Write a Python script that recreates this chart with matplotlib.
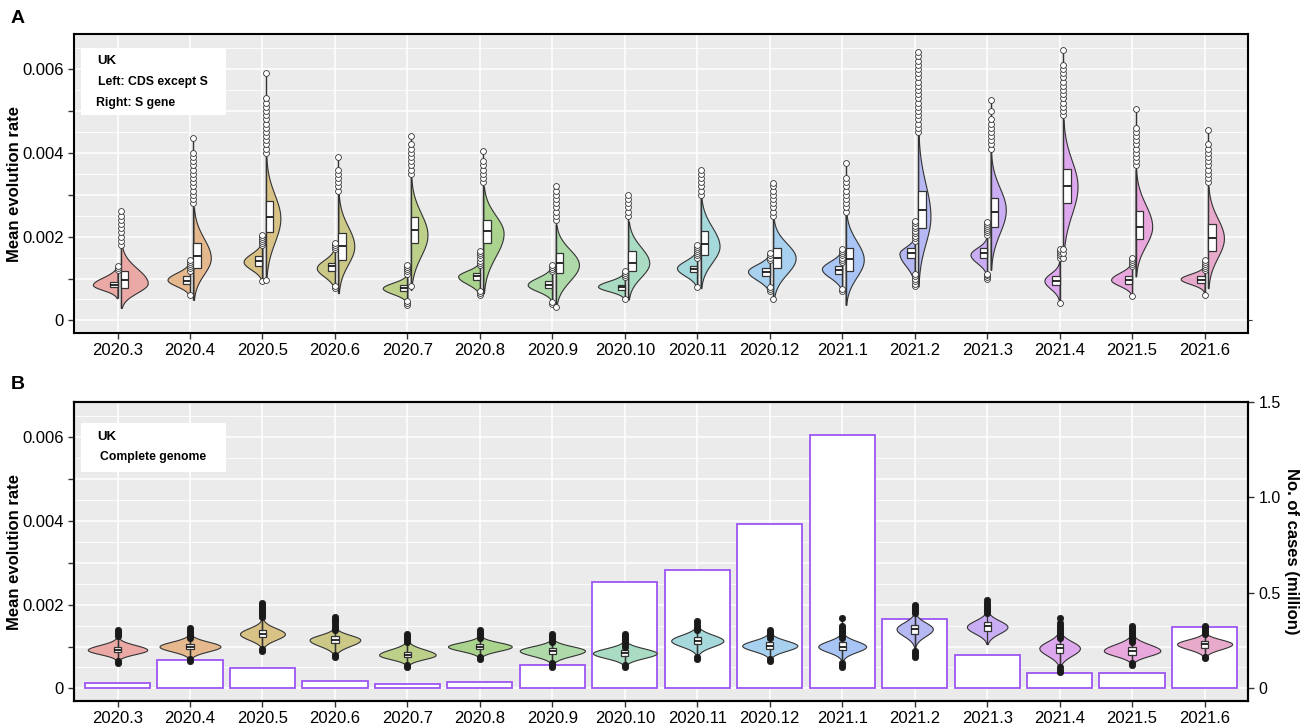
import numpy as np
import matplotlib
matplotlib.use('agg')
from matplotlib import pyplot as plt
from matplotlib.lines import Line2D
from matplotlib.patches import Rectangle
from matplotlib.ticker import FixedLocator, FuncFormatter

plt.rcParams['font.family'] = ['Liberation Sans', 'DejaVu Sans']

MONTHS = ['2020.3', '2020.4', '2020.5', '2020.6', '2020.7', '2020.8', '2020.9', '2020.10',
          '2020.11', '2020.12', '2021.1', '2021.2', '2021.3', '2021.4', '2021.5', '2021.6']
MONTH_COLORS = ['#EBA9A6', '#E6B88E', '#D8C285', '#CCC888', '#BDD08A', '#AAD48E', '#AEDAA9', '#A9DCC3',
                '#A6D9DB', '#A8D1EF', '#A9C5F6', '#B5B8F2', '#C9AEF3', '#DEA8EE', '#E8A8DD', '#E8AACB']

# --- A, left half: CDS except S ---
CDS_LOW = [0.00053, 0.00058, 0.00092, 0.00073, 0.00042, 0.0006, 0.00045, 0.00052,
           0.00077, 0.00065, 0.00069, 0.00085, 0.00105, 0.00045, 0.0006, 0.00068]
CDS_HIGH = [0.0013, 0.0014, 0.0019, 0.00175, 0.0011, 0.0014, 0.0013, 0.00115,
            0.0017, 0.0016, 0.0017, 0.002, 0.002, 0.0014, 0.0014, 0.0013]
CDS_MODE = [0.00085, 0.00097, 0.0014, 0.00125, 0.00077, 0.00105, 0.00085, 0.00081,
            0.00125, 0.00117, 0.00123, 0.0016, 0.00157, 0.00095, 0.00097, 0.00099]
CDS_DENSITY = [0.34, 0.31, 0.26, 0.25, 0.34, 0.30, 0.34, 0.37, 0.28, 0.30, 0.28, 0.21, 0.23, 0.21, 0.29, 0.33]
CDS_Q1 = [0.00079, 0.00088, 0.00129, 0.00117, 0.00071, 0.00097, 0.00077, 0.00073,
          0.00115, 0.00107, 0.00111, 0.00149, 0.00149, 0.00085, 0.00088, 0.00089]
CDS_MEDIAN = [0.00084, 0.00095, 0.00141, 0.00129, 0.00077, 0.00105, 0.00085, 0.0008,
              0.00123, 0.00115, 0.00121, 0.0016, 0.0016, 0.00095, 0.00097, 0.00097]
CDS_Q3 = [0.00091, 0.00105, 0.00153, 0.00137, 0.00085, 0.00113, 0.00093, 0.00085,
          0.00131, 0.00125, 0.00131, 0.00173, 0.00173, 0.00107, 0.00107, 0.00107]
CDS_OUTLIERS = [
    [0.00121, 0.00125, 0.00129],
    [0.0006, 0.00118, 0.00124, 0.0013, 0.00135, 0.0014, 0.00145],
    [0.00093, 0.0018, 0.00185, 0.0019, 0.00195, 0.002, 0.00205],
    [0.00078, 0.00082, 0.0017, 0.00175, 0.0018, 0.00185],
    [0.00038, 0.00042, 0.00046, 0.00112, 0.00117, 0.00122, 0.00128, 0.00133],
    [0.0006, 0.00065, 0.0007, 0.00133, 0.00138, 0.00143, 0.00148, 0.00155, 0.0016, 0.00166],
    [0.0004, 0.00045, 0.00118, 0.00123, 0.00128, 0.00133],
    [0.0005, 0.00104, 0.00109, 0.00114, 0.00119],
    [0.0008, 0.0015, 0.00155, 0.0016, 0.00165, 0.0017, 0.00175, 0.0018],
    [0.0007, 0.00075, 0.0008, 0.00145, 0.0015, 0.00155, 0.0016],
    [0.0007, 0.00075, 0.0014, 0.00145, 0.0015, 0.00155, 0.0016, 0.00165, 0.0017],
    [0.00081, 0.00087, 0.00093, 0.001, 0.00106, 0.00112, 0.0019, 0.00196, 0.00202, 0.00208,
     0.00214, 0.0022, 0.00226, 0.00232, 0.00238],
    [0.001, 0.00104, 0.00108, 0.00112, 0.00205, 0.0021, 0.00215, 0.0022, 0.00225, 0.0023, 0.00236],
    [0.00041, 0.0015, 0.00155, 0.0016, 0.00165, 0.0017],
    [0.00059, 0.0013, 0.00135, 0.0014, 0.00145, 0.0015],
    [0.00061, 0.0012, 0.00125, 0.0013, 0.00135, 0.0014, 0.00145],
]

# --- A, right half: S gene ---
S_LOW = [0.0003, 0.00049, 0.00095, 0.00065, 0.00073, 0.00065, 0.00033, 0.0005,
         0.00077, 0.0005, 0.00037, 0.00081, 0.00121, 0.00149, 0.00105, 0.00077]
S_HIGH = [0.0018, 0.0027, 0.0039, 0.003, 0.0034, 0.0032, 0.00228, 0.00236,
          0.00296, 0.0024, 0.0026, 0.0045, 0.004, 0.0048, 0.0036, 0.0032]
S_MODE = [0.00089, 0.00149, 0.00244, 0.00177, 0.00204, 0.00208, 0.00133, 0.00137,
          0.00177, 0.00149, 0.00145, 0.00248, 0.00264, 0.0032, 0.00224, 0.00196]
S_DENSITY = [0.37, 0.24, 0.20, 0.22, 0.23, 0.28, 0.32, 0.29, 0.26, 0.31, 0.25, 0.17, 0.21, 0.20, 0.23, 0.22]
S_Q1 = [0.00077, 0.00125, 0.0021, 0.00145, 0.00185, 0.00185, 0.00113, 0.00117,
        0.00157, 0.00125, 0.00117, 0.0022, 0.00222, 0.0028, 0.00195, 0.00165]
S_MEDIAN = [0.00097, 0.00153, 0.00247, 0.00177, 0.00216, 0.00214, 0.00137, 0.00137,
            0.00183, 0.00149, 0.00146, 0.00263, 0.00258, 0.0032, 0.00224, 0.00196]
S_Q3 = [0.00117, 0.00185, 0.00286, 0.00208, 0.00248, 0.0024, 0.0016, 0.00165,
        0.00214, 0.00173, 0.00174, 0.0031, 0.00292, 0.00361, 0.00262, 0.00231]
S_OUTLIERS = [
    [0.0018, 0.0019, 0.002, 0.0021, 0.0022, 0.0023, 0.0024, 0.0025, 0.00262],
    [0.0028, 0.0029, 0.003, 0.0031, 0.0032, 0.0033, 0.0034, 0.0035, 0.0036, 0.0037, 0.0038,
     0.0039, 0.004, 0.00435],
    [0.00097, 0.004, 0.0041, 0.0042, 0.0043, 0.0044, 0.0045, 0.0046, 0.0047, 0.0048, 0.0049,
     0.005, 0.0051, 0.0052, 0.0053, 0.0059],
    [0.0031, 0.0032, 0.0033, 0.0034, 0.0035, 0.0036, 0.0039],
    [0.00083, 0.0035, 0.0036, 0.0037, 0.0038, 0.0039, 0.004, 0.0041, 0.0042, 0.0044],
    [0.0033, 0.0034, 0.0035, 0.0036, 0.0037, 0.0038, 0.00405],
    [0.00033, 0.0024, 0.0025, 0.0026, 0.0027, 0.0028, 0.0029, 0.003, 0.0031, 0.0032],
    [0.0025, 0.0026, 0.0027, 0.0028, 0.0029, 0.003],
    [0.003, 0.0031, 0.0032, 0.0033, 0.0034, 0.0035, 0.0036],
    [0.0005, 0.0025, 0.0026, 0.0027, 0.0028, 0.0029, 0.003, 0.0031, 0.0032, 0.00328],
    [0.0026, 0.0027, 0.0028, 0.0029, 0.003, 0.0031, 0.0032, 0.0033, 0.0034, 0.00375],
    [0.0045, 0.0046, 0.0047, 0.0048, 0.0049, 0.005, 0.0051, 0.0052, 0.0053, 0.0054, 0.0055,
     0.0056, 0.0057, 0.0058, 0.0059, 0.006, 0.0061, 0.0062, 0.0063, 0.0064],
    [0.0041, 0.0042, 0.0043, 0.0044, 0.0045, 0.0046, 0.0047, 0.0048, 0.005, 0.00527],
    [0.0015, 0.0016, 0.0017, 0.0049, 0.005, 0.0051, 0.0052, 0.0053, 0.0054, 0.0055, 0.0056,
     0.0057, 0.0058, 0.0059, 0.006, 0.0061, 0.00646],
    [0.0037, 0.0038, 0.0039, 0.004, 0.0041, 0.0042, 0.0043, 0.0044, 0.0045, 0.0046, 0.00505],
    [0.0033, 0.0034, 0.0035, 0.0036, 0.0037, 0.0038, 0.0039, 0.004, 0.0041, 0.0042, 0.00455],
]

# --- B: complete genome + monthly cases ---
GENOME_LOW = [0.00066, 0.0007, 0.00094, 0.00078, 0.00054, 0.00073, 0.00058, 0.00054,
              0.00078, 0.0007, 0.00066, 0.00098, 0.00106, 0.0005, 0.00058, 0.00074]
GENOME_HIGH = [0.00122, 0.0013, 0.00166, 0.00146, 0.00114, 0.00126, 0.00118, 0.00114,
               0.0015, 0.00134, 0.00134, 0.00182, 0.00186, 0.00138, 0.0013, 0.00134]
GENOME_MODE = [0.00092, 0.001, 0.0013, 0.00116, 0.0008, 0.001, 0.0009, 0.00084,
               0.00114, 0.00102, 0.001, 0.00142, 0.00147, 0.00096, 0.0009, 0.00106]
GENOME_DENSITY = [0.41, 0.42, 0.31, 0.35, 0.39, 0.44, 0.45, 0.44, 0.36, 0.38, 0.33, 0.25, 0.28, 0.28, 0.39, 0.38]
GENOME_Q1 = [0.00086, 0.00094, 0.00122, 0.00108, 0.00074, 0.00093, 0.00083, 0.00078,
             0.00105, 0.00094, 0.00092, 0.0013, 0.00136, 0.00084, 0.0008, 0.00096]
GENOME_MEDIAN = [0.00092, 0.001, 0.0013, 0.00116, 0.0008, 0.001, 0.00089, 0.00085,
                 0.00113, 0.00102, 0.001, 0.00142, 0.00148, 0.00096, 0.0009, 0.00106]
GENOME_Q3 = [0.00098, 0.00106, 0.0014, 0.00124, 0.00087, 0.00106, 0.00096, 0.00092,
             0.00122, 0.0011, 0.0011, 0.00152, 0.00158, 0.00106, 0.00098, 0.00114]
GENOME_OUTLIERS = [
    [0.0006, 0.00065, 0.00125, 0.0013, 0.00135, 0.0014],
    [0.00065, 0.0007, 0.0012, 0.00125, 0.0013, 0.00135, 0.0014, 0.00145],
    [0.0009, 0.00095, 0.0017, 0.00175, 0.0018, 0.00185, 0.0019, 0.00195, 0.002, 0.00205],
    [0.00075, 0.0008, 0.0014, 0.00145, 0.0015, 0.00155, 0.0016, 0.00165, 0.0017],
    [0.0005, 0.00055, 0.0011, 0.00115, 0.0012, 0.00125, 0.0013],
    [0.0007, 0.00075, 0.0012, 0.00125, 0.0013, 0.00135, 0.0014],
    [0.0005, 0.00055, 0.0006, 0.0011, 0.00115, 0.0012, 0.00125, 0.0013],
    [0.0005, 0.00055, 0.001, 0.00105, 0.0011, 0.00115, 0.0012, 0.00125, 0.0013],
    [0.0007, 0.00075, 0.0014, 0.00145, 0.0015, 0.00155, 0.0016],
    [0.00065, 0.0007, 0.0012, 0.00125, 0.0013, 0.00135, 0.0014],
    [0.0005, 0.00055, 0.0006, 0.0012, 0.00125, 0.0013, 0.00135, 0.0014, 0.00145, 0.0015, 0.00168],
    [0.00075, 0.0008, 0.00085, 0.0009, 0.0018, 0.00185, 0.0019, 0.00195, 0.002],
    [0.0018, 0.00185, 0.0019, 0.00195, 0.002, 0.00205, 0.0021],
    [0.0004, 0.00045, 0.0005, 0.0012, 0.00125, 0.0013, 0.00135, 0.0014, 0.00145, 0.0015,
     0.00155, 0.00168],
    [0.00055, 0.0006, 0.0011, 0.00115, 0.0012, 0.00125, 0.0013, 0.00135, 0.0014, 0.00145, 0.0015],
    [0.00072, 0.00075, 0.0013, 0.00135, 0.0014, 0.00145, 0.0015],
]
CASES_MILLION = [0.025, 0.144, 0.103, 0.035, 0.018, 0.032, 0.117, 0.558,
                 0.617, 0.858, 1.329, 0.359, 0.170, 0.077, 0.077, 0.318]

LINE = '#333333'
PANEL_BG = '#EBEBEB'
BAR_EDGE = '#9D55F2'
RATE_LIM = (-0.0003, 0.00683)
RATE_TICKS = [0, 0.001, 0.002, 0.003, 0.004, 0.005, 0.006]
RATE_MINOR = [0.0005, 0.0015, 0.0025, 0.0035, 0.0045, 0.0055, 0.0065]
TICK_SIZE = 12


def profile(low, high, mode):
    # skewed bell outline between the trimmed ends of one violin
    y = np.linspace(low, high, 150)
    spread = np.where(y < mode, (mode - low) / 2.6, (high - mode) / 2.6)
    dens = np.exp(-0.5 * ((y - mode) / spread) ** 2)
    return dict(coords=y, vals=dens, mean=mode, median=mode, min=low, max=high)


def add_violin(ax, stats, pos, half_width, color, side):
    parts = ax.violin([stats], positions=[pos], widths=[2 * half_width],
                      showextrema=False, side=side)
    for body in parts['bodies']:
        body.set_facecolor(color)
        body.set_edgecolor(LINE)
        body.set_linewidth(0.8)
        body.set_alpha(1)
        body.set_zorder(2)


def add_box(ax, pos, width, q1, med, q3, lo, hi, whiskers=True):
    stats = dict(q1=q1, med=med, q3=q3, whislo=lo, whishi=hi, fliers=[])
    ax.bxp([stats], positions=[pos], widths=[width], patch_artist=True, showcaps=False,
           showfliers=False, manage_ticks=False, zorder=4,
           boxprops=dict(facecolor='white', edgecolor=LINE, linewidth=0.9),
           medianprops=dict(color='#1a1a1a', linewidth=1.3),
           whiskerprops=dict(color=LINE, linewidth=0.9 if whiskers else 0))


def style_rate_axis(ax):
    ax.set_facecolor(PANEL_BG)
    ax.set_xlim(-0.6, len(MONTHS) - 0.4)
    ax.set_ylim(*RATE_LIM)
    ax.yaxis.set_major_locator(FixedLocator(RATE_TICKS))
    ax.yaxis.set_minor_locator(FixedLocator(RATE_MINOR))
    ax.yaxis.set_major_formatter(FuncFormatter(
        lambda v, _: '' if round(v * 1000) % 2 else ('0' if abs(v) < 1e-9 else f'{v:.3f}')))
    ax.set_xticks(range(len(MONTHS)))
    ax.set_xticklabels(MONTHS)
    ax.grid(which='major', color='white', linewidth=1.1)
    ax.grid(which='minor', axis='y', color='white', linewidth=0.6)
    ax.set_axisbelow(True)
    ax.tick_params(which='major', labelsize=TICK_SIZE, colors=LINE, labelcolor='black', length=4, width=1)
    ax.tick_params(which='minor', length=0)
    for spine in ax.spines.values():
        spine.set_color('black')
        spine.set_linewidth(1.5)
    ax.set_ylabel('Mean evolution rate', fontsize=12, fontweight='bold')
    ax.yaxis.set_label_coords(-0.0445, 0.5)


def add_note(ax, lines, box_top, box_bottom):
    ax.add_patch(Rectangle((0.006, box_bottom), 0.1235, box_top - box_bottom, transform=ax.transAxes,
                           facecolor='white', edgecolor='none', zorder=6))
    for x, y, text, size in lines:
        ax.text(x, y, text, transform=ax.transAxes, fontsize=size, fontweight='bold',
                va='center', ha='left', zorder=7)


fig = plt.figure(figsize=(13.01, 7.25), dpi=100)
ax_a = fig.add_axes([0.0569, 0.5407, 0.9024, 0.4120])
ax_b = fig.add_axes([0.0569, 0.0331, 0.9024, 0.4120])

# A: split violins, CDS except S on the left, S gene on the right
style_rate_axis(ax_a)
for i, color in enumerate(MONTH_COLORS):
    left_x, right_x = i, i + 0.047
    add_violin(ax_a, profile(CDS_LOW[i], CDS_HIGH[i], CDS_MODE[i]), left_x, CDS_DENSITY[i], color, 'low')
    add_violin(ax_a, profile(S_LOW[i], S_HIGH[i], S_MODE[i]), right_x, S_DENSITY[i], color, 'high')

    for x, low, high, out in [(left_x, CDS_LOW[i], CDS_HIGH[i], CDS_OUTLIERS[i]),
                              (right_x, S_LOW[i], S_HIGH[i], S_OUTLIERS[i])]:
        ax_a.vlines(x, min([low] + out), max([high] + out), color=LINE, linewidth=1.0, zorder=3)
        ax_a.plot([x] * len(out), out, 'o', ms=4.2, mfc='white', mec=LINE, mew=0.6, zorder=5)

    add_box(ax_a, left_x - 0.05, 0.1, CDS_Q1[i], CDS_MEDIAN[i], CDS_Q3[i], CDS_LOW[i], CDS_HIGH[i], False)
    add_box(ax_a, right_x + 0.052, 0.104, S_Q1[i], S_MEDIAN[i], S_Q3[i], S_LOW[i], S_HIGH[i], False)

edge_a = ax_a.twinx()
edge_a.set_ylim(*RATE_LIM)
edge_a.set_yticks([0])
edge_a.set_yticklabels([''])
edge_a.tick_params(length=3, colors=LINE)
for spine in edge_a.spines.values():
    spine.set_visible(False)

add_note(ax_a, [(0.0196, 0.911, 'UK', 9.5),
                (0.0204, 0.840, 'Left: CDS except S', 8.8),
                (0.0187, 0.770, 'Right: S gene', 8.8)], 0.954, 0.730)

# B: monthly cases as open bars behind the complete-genome violins
style_rate_axis(ax_b)
ax_b.grid(False, which='both')
cases_ax = ax_b.twinx()
ax_b.set_zorder(cases_ax.get_zorder() + 1)
ax_b.patch.set_visible(False)
cases_ax.patch.set_visible(True)
cases_ax.patch.set_facecolor(PANEL_BG)

# grid sits under the bars, so it follows the rate scale from the back axes
rate_y = ax_b.get_yaxis_transform()
for y in RATE_TICKS + RATE_MINOR:
    cases_ax.add_line(Line2D([0, 1], [y, y], transform=rate_y, color='white',
                             linewidth=1.1 if y in RATE_TICKS else 0.6, zorder=0.5))
for i in range(len(MONTHS)):
    cases_ax.axvline(i, color='white', linewidth=1.1, zorder=0.5)

cases_ax.bar(range(len(MONTHS)), CASES_MILLION, width=0.9, color='white',
             edgecolor=BAR_EDGE, linewidth=1.3, zorder=1)
cases_ax.set_xlim(-0.6, len(MONTHS) - 0.4)
cases_ax.set_ylim(-0.0697, 1.5)
cases_ax.set_yticks([0, 0.5, 1.0, 1.5])
cases_ax.set_yticklabels(['0', '0.5', '1.0', '1.5'])
cases_ax.tick_params(labelsize=TICK_SIZE - 0.5, colors=LINE, labelcolor='black', length=4, width=1)
for spine in cases_ax.spines.values():
    spine.set_color('black')
    spine.set_linewidth(1.5)
cases_ax.set_ylabel('No. of cases (million)', fontsize=12, fontweight='bold', rotation=270,
                    va='bottom')
cases_ax.yaxis.set_label_coords(1.031, 0.5)

for i, color in enumerate(MONTH_COLORS):
    add_violin(ax_b, profile(GENOME_LOW[i], GENOME_HIGH[i], GENOME_MODE[i]), i, GENOME_DENSITY[i],
               color, 'both')
    out = GENOME_OUTLIERS[i]
    ax_b.vlines(i, min(out), max(out), color=LINE, linewidth=1.0, zorder=3)
    ax_b.plot([i] * len(out), out, 'o', ms=4.6, mfc='#1a1a1a', mec='#1a1a1a', mew=0.5, zorder=5)
    add_box(ax_b, i, 0.1, GENOME_Q1[i], GENOME_MEDIAN[i], GENOME_Q3[i], GENOME_LOW[i], GENOME_HIGH[i])

add_note(ax_b, [(0.0196, 0.884, 'UK', 9.5),
                (0.022, 0.817, 'Complete genome', 8.8)], 0.931, 0.767)

fig.text(0.008, 0.975, 'A', fontsize=14, fontweight='bold', va='center')
fig.text(0.008, 0.470, 'B', fontsize=14, fontweight='bold', va='center')

fig.savefig('out.png', dpi=100)
